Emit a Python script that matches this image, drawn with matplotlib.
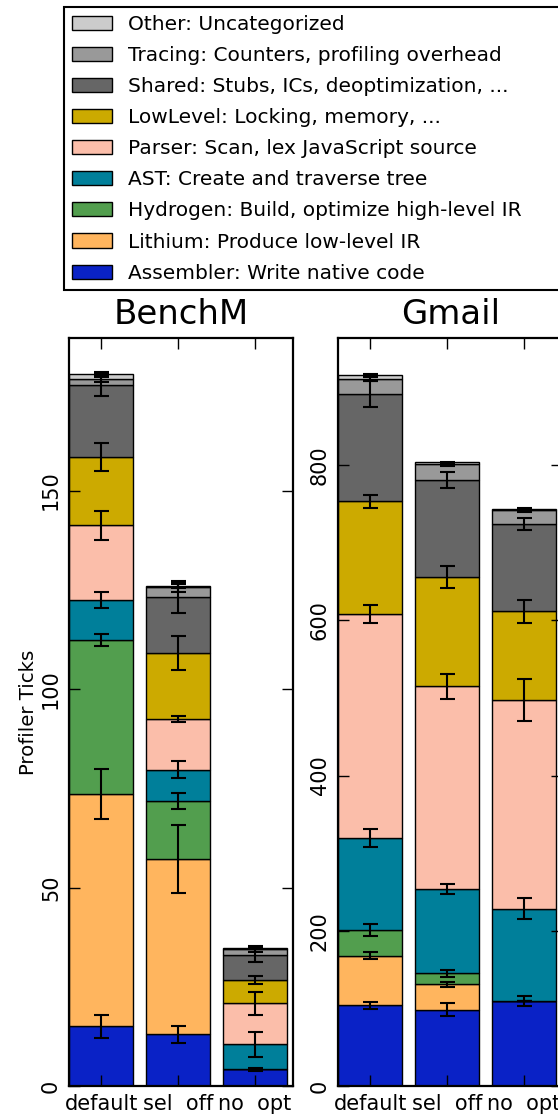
import matplotlib
matplotlib.use("Agg")
import matplotlib.pyplot as plt
import numpy as np

# stacking order, bottom to top
CATEGORIES = ["Assembler", "Lithium", "Hydrogen", "AST", "Parser",
              "LowLevel", "Shared", "Tracing", "Other"]
LABELS = [
    "Assembler: Write native code",
    "Lithium: Produce low-level IR",
    "Hydrogen: Build, optimize high-level IR",
    "AST: Create and traverse tree",
    "Parser: Scan, lex JavaScript source",
    "LowLevel: Locking, memory, ...",
    "Shared: Stubs, ICs, deoptimization, ...",
    "Tracing: Counters, profiling overhead",
    "Other: Uncategorized",
]
COLORS = ["#0a22c6", "#ffb55e", "#529e4e", "#007f9a", "#fbbeaa",
          "#ccaa00", "#666666", "#999999", "#cccccc"]

CONFIGS = ["default", "sel  off", "no  opt"]

# per-category ticks, one list per config (default, sel off, no opt)
BENCHM = {
    "default": [15.0, 58.5, 38.8, 10.2, 18.7, 17.3, 18.2, 1.5, 1.1],
    "sel  off": [13.0, 44.2, 14.6, 7.9, 12.7, 16.7, 14.1, 2.4, 0.3],
    "no  opt": [4.2, 0.0, 0.0, 6.3, 10.3, 5.9, 6.2, 1.5, 0.4],
}
BENCHM_ERR = {
    "default": [3.0, 6.3, 1.5, 2.0, 3.6, 3.6, 2.9, 0.8, 0.6],
    "sel  off": [2.2, 8.5, 2.0, 2.2, 0.8, 4.3, 4.1, 1.2, 0.5],
    "no  opt": [0.4, 0.0, 0.0, 3.1, 2.8, 1.0, 1.6, 0.6, 0.4],
}
GMAIL = {
    "default": [104.0, 63.5, 33.5, 118.6, 288.2, 145.2, 139.0, 19.0, 4.8],
    "sel  off": [98.0, 33.0, 14.2, 108.7, 261.1, 140.5, 125.5, 20.0, 2.3],
    "no  opt": [109.5, 0.0, 0.0, 119.0, 268.9, 114.3, 112.1, 17.6, 2.2],
}
GMAIL_ERR = {
    "default": [4.3, 4.5, 7.3, 12.0, 11.6, 9.0, 16.8, 3.0, 2.0],
    "sel  off": [8.4, 3.2, 4.7, 6.0, 16.3, 14.2, 10.5, 2.0, 1.0],
    "no  opt": [6.0, 0.0, 0.0, 14.0, 27.5, 14.6, 7.7, 2.5, 1.0],
}

plt.rcParams.update({
    "font.family": "DejaVu Sans",
    "axes.linewidth": 1.6,
    "xtick.direction": "in",
    "ytick.direction": "in",
    "xtick.top": True,
    "ytick.right": True,
    "xtick.major.size": 7.7,
    "ytick.major.size": 7.7,
    "xtick.major.width": 1.0,
    "ytick.major.width": 1.0,
})


def plot_stack(ax, data, err, title, ylim, yticks):
    x = np.arange(len(CONFIGS))
    vals = np.array([data[c] for c in CONFIGS])   # configs x categories
    errs = np.array([err[c] for c in CONFIGS])
    bottom = np.zeros(len(CONFIGS))
    handles = []
    for i, cat in enumerate(CATEGORIES):
        h = ax.bar(x, vals[:, i], 0.834, bottom=bottom, color=COLORS[i],
                   edgecolor="black", linewidth=1.0, label=LABELS[i])
        handles.append(h)
        top = bottom + vals[:, i]
        ax.errorbar(x, top, yerr=errs[:, i], fmt="none", ecolor="black",
                    elinewidth=1.5, capsize=5.4, capthick=1.5)
        bottom = top
    ax.set_xlim(-0.417, 2.503)
    ax.set_ylim(0, ylim)
    ax.set_xticks(x)
    ax.set_xticklabels(CONFIGS, fontsize=15)
    ax.set_yticks(yticks)
    ax.set_yticklabels([str(t) for t in yticks], fontsize=15, rotation=90,
                       va="center")
    ax.tick_params(axis="x", pad=6)
    ax.tick_params(axis="y", pad=6)
    ax.set_title(title, fontsize=24.5, pad=9.6)
    return handles


fig = plt.figure(figsize=(5.58, 11.15), dpi=100)
ax1 = fig.add_axes([69.3 / 558, 29 / 1115, 224 / 558, 748.3 / 1115])
ax2 = fig.add_axes([338.3 / 558, 29 / 1115, 224 / 558, 748.3 / 1115])

handles = plot_stack(ax1, BENCHM, BENCHM_ERR, "BenchM", 188.5, [0, 50, 100, 150])
plot_stack(ax2, GMAIL, GMAIL_ERR, "Gmail", 964, [0, 200, 400, 600, 800])
ax1.set_ylabel("Profiler Ticks", fontsize=14.2, labelpad=2)

leg = fig.legend(handles[::-1], LABELS[::-1], loc="upper left",
                 bbox_to_anchor=(64 / 558, 1 - 7.3 / 1115, 503 / 558, 0),
                 mode="expand", borderaxespad=0, fontsize=14.5,
                 handlelength=2.0, handletextpad=0.78, labelspacing=0.6,
                 borderpad=0.38, fancybox=False, framealpha=1)
leg.get_frame().set_edgecolor("black")
leg.get_frame().set_linewidth(1.5)

fig.savefig("out.png", dpi=100)
